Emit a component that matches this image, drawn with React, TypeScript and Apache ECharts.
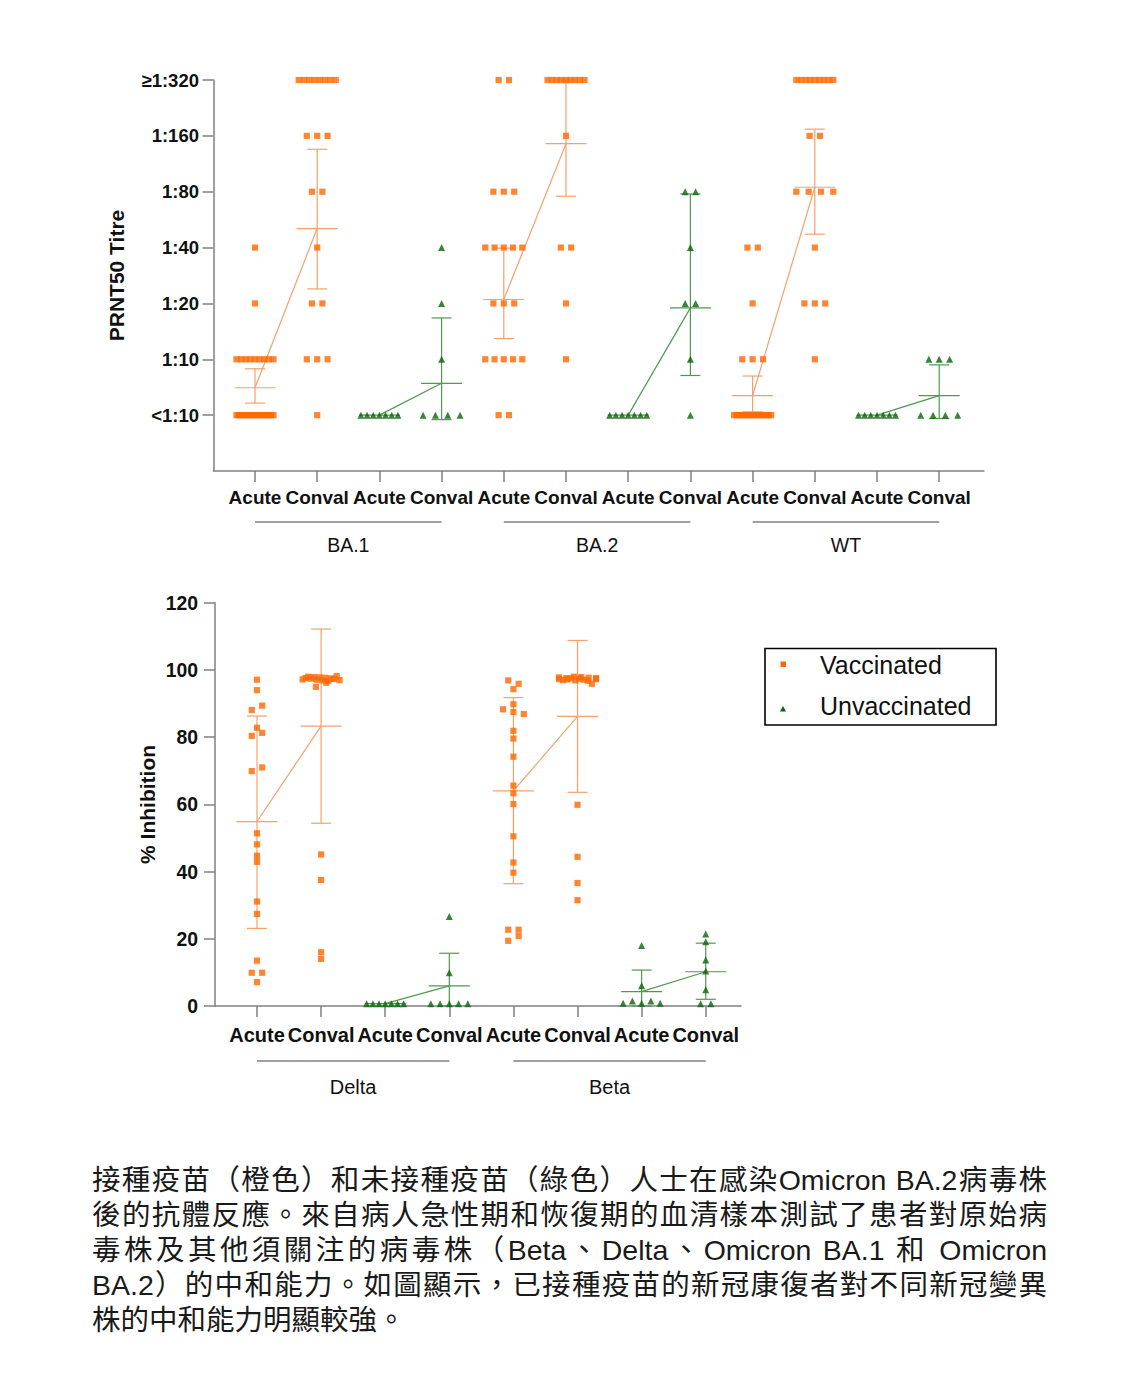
import React, { useEffect, useRef } from 'react';
import * as echarts from 'echarts';

// ---------------- DATA ----------------
const topLevelLabels = ['<1:10', '1:10', '1:20', '1:40', '1:80', '1:160', '≥1:320'];
const topCategories = ['Acute', 'Conval', 'Acute', 'Conval', 'Acute', 'Conval', 'Acute', 'Conval', 'Acute', 'Conval', 'Acute', 'Conval'];
const topGroups = ['BA.1', 'BA.2', 'WT'];

// number of sera at each titre level (<1:10 ... ≥1:320)
const ba1VaccAcute = [17, 9, 1, 1, 0, 0, 0];
const ba1VaccConval = [1, 3, 2, 1, 2, 3, 8];
const ba1UnvaccAcute = [7, 0, 0, 0, 0, 0, 0];
const ba1UnvaccConval = [4, 1, 1, 1, 0, 0, 0];
const ba2VaccAcute = [2, 5, 3, 5, 3, 0, 2];
const ba2VaccConval = [0, 1, 1, 2, 0, 1, 9];
const ba2UnvaccAcute = [7, 0, 0, 0, 0, 0, 0];
const ba2UnvaccConval = [1, 1, 2, 1, 2, 0, 0];
const wtVaccAcute = [16, 3, 1, 2, 0, 0, 0];
const wtVaccConval = [0, 1, 3, 1, 4, 2, 9];
const wtUnvaccAcute = [7, 0, 0, 0, 0, 0, 0];
const wtUnvaccConval = [4, 3, 0, 0, 0, 0, 0];

// mean and error bar (titre level units)
const topMeans = [0.49, 3.34, 0, 0.57, 2.07, 4.86, 0, 1.92, 0.35, 4.08, 0, 0.35];
const topErrLow = [0.215, 2.26, 0, -0.08, 1.37, 3.92, 0, 0.71, 0.06, 3.24, 0, -0.06];
const topErrHigh = [0.83, 4.76, 0, 1.74, 2.99, 6.0, 0, 3.96, 0.7, 5.12, 0, 0.9];

const bottomCategories = ['Acute', 'Conval', 'Acute', 'Conval', 'Acute', 'Conval', 'Acute', 'Conval'];
const bottomGroups = ['Delta', 'Beta'];

// % inhibition values
const deltaVaccAcute = [97.1, 94.0, 88.1, 89.4, 82.8, 80.4, 81.3, 69.9, 71.0, 51.4, 48.1, 44.7, 42.9, 31.1, 27.4, 13.5, 9.9, 9.9, 7.1];
const deltaVaccConval = [97.2, 97.6, 98.0, 97.4, 97.9, 97.1, 97.8, 96.9, 97.7, 96.8, 97.5, 97.3, 98.2, 97.0, 95.0, 96.2, 45.1, 37.5, 16.0, 14.0];
const deltaUnvaccAcute = [0.7, 0.7, 0.7, 0.7, 0.7, 0.7, 0.7];
const deltaUnvaccConval = [26.6, 9.9, 0.7, 0.7, 0.7, 0.7, 0.7];
const betaVaccAcute = [96.9, 95.9, 94.3, 89.8, 88.3, 87.5, 86.9, 81.9, 79.6, 74.2, 65.6, 63.3, 60.1, 50.5, 42.7, 39.7, 22.7, 22.7, 19.4, 20.8];
const betaVaccConval = [97.3, 97.8, 97.0, 97.6, 98.0, 97.2, 97.5, 97.9, 96.9, 97.4, 97.7, 97.1, 96.8, 97.6, 95.9, 97.3, 59.9, 44.4, 36.6, 31.5];
const betaUnvaccAcute = [18.0, 6.0, 0.8, 1.5, 0.8, 1.5, 0.8];
const betaUnvaccConval = [21.4, 19.1, 13.7, 10.4, 4.8, 0.7, 0.7];

const bottomMeans = [54.9, 83.3, 0.7, 6.0, 64.0, 86.2, 4.3, 10.2];
const bottomErrLow = [23.1, 54.4, 0.7, 0, 36.4, 63.6, 0, 2.0];
const bottomErrHigh = [86.3, 112.2, 0.7, 15.7, 91.8, 108.8, 10.7, 18.7];

const captionLines = [
  '接種疫苗（橙色）和未接種疫苗（綠色）人士在感染Omicron BA.2病毒株',
  '後的抗體反應。來自病人急性期和恢復期的血清樣本測試了患者對原始病',
  '毒株及其他須關注的病毒株（Beta、Delta、Omicron BA.1 和 Omicron',
  'BA.2）的中和能力。如圖顯示，已接種疫苗的新冠康復者對不同新冠變異',
  '株的中和能力明顯較強。',
];

// ---------------- STYLE / LAYOUT ----------------
const FONT = '"Liberation Sans", Arial, Helvetica, sans-serif';
const ORANGE = '#FF6600';
const GREEN = '#0A640A';
const ORANGE_LINE = '#F6A06C';
const GREEN_LINE = '#4E9A4E';
const AXIS = '#808080';
const TXT = '#111111';

const TOP = { left: 213.5, top: 80, width: 770.5, height: 391, xMin: -0.667, xMax: 11.72, yMin: -1, yMax: 6 };
const BOT = { left: 215, top: 602.8, width: 526, height: 403.2, xMin: -0.655, xMax: 7.55, yMin: 0, yMax: 120 };
const TOP_PPU = TOP.width / (TOP.xMax - TOP.xMin);
const BOT_PPU = BOT.width / (BOT.xMax - BOT.xMin);

function spread(n: number, ppu: number): number[] {
  const spacing = 10.4 / ppu;
  const span = 37 / ppu;
  const out: number[] = [];
  for (let i = 0; i < n; i++) {
    if (n === 1) out.push(0);
    else if (n <= 3) out.push((i - (n - 1) / 2) * spacing);
    else out.push((i / (n - 1) - 0.5) * span);
  }
  return out;
}

function countsToPoints(cat: number, counts: number[]): number[][] {
  const pts: number[][] = [];
  counts.forEach((n, level) => {
    spread(n, TOP_PPU).forEach((o) => pts.push([cat + o, level]));
  });
  return pts;
}

function valuesToPoints(cat: number, values: number[], threshold: number): number[][] {
  const idx = values.map((_, i) => i).sort((a, b) => values[a] - values[b]);
  const bins: number[][] = [];
  let cur: number[] = [];
  let start: number | null = null;
  for (const i of idx) {
    if (start === null || values[i] - start > threshold) {
      if (cur.length) bins.push(cur);
      cur = [i];
      start = values[i];
    } else cur.push(i);
  }
  if (cur.length) bins.push(cur);
  const pts: number[][] = [];
  bins.forEach((bin) => {
    bin.sort((a, b) => a - b);
    const offs = spread(bin.length, BOT_PPU);
    bin.forEach((i, k) => pts.push([cat + offs[k], values[i]]));
  });
  return pts;
}

const topVacc: [number, number[]][] = [[0, ba1VaccAcute], [1, ba1VaccConval], [4, ba2VaccAcute], [5, ba2VaccConval], [8, wtVaccAcute], [9, wtVaccConval]];
const topUnvacc: [number, number[]][] = [[2, ba1UnvaccAcute], [3, ba1UnvaccConval], [6, ba2UnvaccAcute], [7, ba2UnvaccConval], [10, wtUnvaccAcute], [11, wtUnvaccConval]];
const botVacc: [number, number[]][] = [[0, deltaVaccAcute], [1, deltaVaccConval], [4, betaVaccAcute], [5, betaVaccConval]];
const botUnvacc: [number, number[]][] = [[2, deltaUnvaccAcute], [3, deltaUnvaccConval], [6, betaUnvaccAcute], [7, betaUnvaccConval]];

function isVacc(i: number) {
  return i % 4 < 2;
}

function errorSeries(axisIndex: number, means: number[], lows: number[], highs: number[]) {
  return {
    type: 'custom',
    xAxisIndex: axisIndex,
    yAxisIndex: axisIndex,
    silent: true,
    clip: false,
    z: 2,
    data: means.map((m, i) => [i, m, lows[i], highs[i]]),
    renderItem: (params: any, api: any) => {
      const x = api.value(0);
      const m = api.value(1);
      const lo = api.value(2);
      const hi = api.value(3);
      const color = isVacc(params.dataIndex) ? ORANGE_LINE : GREEN_LINE;
      const pm = api.coord([x, m]);
      const pl = api.coord([x, lo]);
      const ph = api.coord([x, hi]);
      const style = { stroke: color, lineWidth: 1.2 };
      const children: any[] = [
        { type: 'line', shape: { x1: pm[0] - 20.5, y1: pm[1], x2: pm[0] + 20.5, y2: pm[1] }, style },
      ];
      if (hi > lo) {
        children.push({ type: 'line', shape: { x1: pl[0], y1: pl[1], x2: ph[0], y2: ph[1] }, style });
        children.push({ type: 'line', shape: { x1: pl[0] - 10, y1: pl[1], x2: pl[0] + 10, y2: pl[1] }, style });
        children.push({ type: 'line', shape: { x1: ph[0] - 10, y1: ph[1], x2: ph[0] + 10, y2: ph[1] }, style });
      }
      return { type: 'group', children };
    },
  };
}

function meanLineSeries(axisIndex: number, means: number[]) {
  const out: any[] = [];
  for (let p = 0; p < means.length / 2; p++) {
    out.push({
      type: 'line',
      name: 'mean' + axisIndex + '_' + p,
      xAxisIndex: axisIndex,
      yAxisIndex: axisIndex,
      silent: true,
      showSymbol: false,
      symbol: 'none',
      z: 2,
      lineStyle: { color: p % 2 === 0 ? ORANGE_LINE : GREEN_LINE, width: 1.2 },
      data: [[2 * p, means[2 * p]], [2 * p + 1, means[2 * p + 1]]],
    });
  }
  return out;
}

function groupSeries(axisIndex: number, names: string[], yMin: number, lineOff: number, textOff: number, fontSize: number) {
  return {
    type: 'custom',
    xAxisIndex: axisIndex,
    yAxisIndex: axisIndex,
    silent: true,
    clip: false,
    data: names.map((_, i) => [i * 4, i * 4 + 3, i]),
    renderItem: (params: any, api: any) => {
      const a = api.coord([api.value(0), yMin]);
      const b = api.coord([api.value(1), yMin]);
      const name = names[api.value(2)];
      return {
        type: 'group',
        children: [
          { type: 'line', shape: { x1: a[0], y1: a[1] + lineOff, x2: b[0], y2: a[1] + lineOff }, style: { stroke: AXIS, lineWidth: 1.3 } },
          {
            type: 'text',
            x: (a[0] + b[0]) / 2,
            y: a[1] + textOff,
            style: { text: name, fontSize, fontFamily: FONT, fill: TXT, align: 'center', verticalAlign: 'middle' },
          },
        ],
      };
    },
  };
}

function scatter(name: string, axisIndex: number, pts: number[][], vacc: boolean, size: number) {
  return {
    type: 'scatter',
    name,
    xAxisIndex: axisIndex,
    yAxisIndex: axisIndex,
    clip: false,
    z: 3,
    symbol: vacc ? 'rect' : 'triangle',
    symbolSize: size,
    itemStyle: { color: vacc ? ORANGE : GREEN },
    data: pts,
  };
}

const axisLineStyle = { color: AXIS, width: 1.5 };

export default function App() {
  const ref = useRef<HTMLDivElement>(null);

  useEffect(() => {
    if (!ref.current) return;
    const chart = echarts.init(ref.current, undefined, { renderer: 'svg' });

    const topVaccPts = topVacc.flatMap(([c, counts]) => countsToPoints(c, counts));
    const topUnvaccPts = topUnvacc.flatMap(([c, counts]) => countsToPoints(c, counts));
    const botVaccPts = botVacc.flatMap(([c, v]) => valuesToPoints(c, v, 1.6));
    const botUnvaccPts = botUnvacc.flatMap(([c, v]) => valuesToPoints(c, v, 1.6));

    const option: any = {
      animation: false,
      textStyle: { fontFamily: FONT },
      grid: [
        { left: TOP.left, top: TOP.top, width: TOP.width, height: TOP.height },
        { left: BOT.left, top: BOT.top, width: BOT.width, height: BOT.height },
      ],
      xAxis: [
        {
          gridIndex: 0,
          type: 'value',
          min: TOP.xMin,
          max: TOP.xMax,
          splitLine: { show: false },
          axisLine: { show: true, onZero: false, lineStyle: axisLineStyle },
          axisTick: { show: true, length: 11, lineStyle: axisLineStyle, customValues: topCategories.map((_, i) => i) },
          axisLabel: {
            customValues: topCategories.map((_, i) => i),
            formatter: (v: number) => topCategories[Math.round(v)] ?? '',
            margin: 16.5,
            fontSize: 19,
            fontWeight: 'bold',
            color: TXT,
            fontFamily: FONT,
            hideOverlap: false,
          },
        },
        {
          gridIndex: 1,
          type: 'value',
          min: BOT.xMin,
          max: BOT.xMax,
          splitLine: { show: false },
          axisLine: { show: true, onZero: false, lineStyle: axisLineStyle },
          axisTick: { show: true, length: 11, lineStyle: axisLineStyle, customValues: bottomCategories.map((_, i) => i) },
          axisLabel: {
            customValues: bottomCategories.map((_, i) => i),
            formatter: (v: number) => bottomCategories[Math.round(v)] ?? '',
            margin: 19,
            fontSize: 20,
            fontWeight: 'bold',
            color: TXT,
            fontFamily: FONT,
            hideOverlap: false,
          },
        },
      ],
      yAxis: [
        {
          gridIndex: 0,
          type: 'value',
          min: TOP.yMin,
          max: TOP.yMax,
          interval: 1,
          splitLine: { show: false },
          axisLine: { show: true, onZero: false, lineStyle: axisLineStyle },
          axisTick: { show: true, length: 11, lineStyle: axisLineStyle, customValues: topLevelLabels.map((_, i) => i) },
          axisLabel: {
            customValues: topLevelLabels.map((_, i) => i),
            formatter: (v: number) => topLevelLabels[Math.round(v)] ?? '',
            margin: 14.5,
            fontSize: 18.5,
            fontWeight: 'bold',
            color: TXT,
            fontFamily: FONT,
          },
          name: 'PRNT50 Titre',
          nameLocation: 'middle',
          nameGap: 87,
          nameTextStyle: { fontSize: 21, fontWeight: 'bold', color: TXT, fontFamily: FONT },
        },
        {
          gridIndex: 1,
          type: 'value',
          min: BOT.yMin,
          max: BOT.yMax,
          interval: 20,
          splitLine: { show: false },
          axisLine: { show: true, onZero: false, lineStyle: axisLineStyle },
          axisTick: { show: true, length: 11, lineStyle: axisLineStyle },
          axisLabel: { margin: 17, fontSize: 19.4, fontWeight: 'bold', color: TXT, fontFamily: FONT },
          name: '% Inhibition',
          nameLocation: 'middle',
          nameGap: 57.5,
          nameTextStyle: { fontSize: 21, fontWeight: 'bold', color: TXT, fontFamily: FONT },
        },
      ],
      graphic: [
        { type: 'rect', shape: { x: 765, y: 648.5, width: 231, height: 76.5 }, style: { fill: 'none', stroke: '#000', lineWidth: 1.6 } },
        { type: 'rect', shape: { x: 780.5, y: 661.5, width: 5.5, height: 5.5 }, style: { fill: ORANGE } },
        { type: 'polygon', shape: { points: [[783, 706], [786, 711.5], [780, 711.5]] }, style: { fill: GREEN } },
        { type: 'text', x: 820, y: 665, style: { text: 'Vaccinated', fontSize: 25, fontFamily: FONT, fill: TXT, verticalAlign: 'middle' } },
        { type: 'text', x: 820, y: 706, style: { text: 'Unvaccinated', fontSize: 25, fontFamily: FONT, fill: TXT, verticalAlign: 'middle' } },
      ],
      series: [
        errorSeries(0, topMeans, topErrLow, topErrHigh),
        ...meanLineSeries(0, topMeans),
        groupSeries(0, topGroups, TOP.yMin, 51, 74, 19.5),
        scatter('Vaccinated', 0, topVaccPts, true, 6.2),
        scatter('Unvaccinated', 0, topUnvaccPts, false, 7),
        errorSeries(1, bottomMeans, bottomErrLow, bottomErrHigh),
        ...meanLineSeries(1, bottomMeans),
        groupSeries(1, bottomGroups, BOT.yMin, 55, 81, 20),
        scatter('Vaccinated', 1, botVaccPts, true, 6.2),
        scatter('Unvaccinated', 1, botUnvaccPts, false, 7),
      ],
    };
    chart.setOption(option);
    return () => chart.dispose();
  }, []);

  return (
    <div>
      <div ref={ref} style={{ position: 'absolute', left: 0, top: 0, width: 1132, height: 1150 }} />
      <div
        style={{
          position: 'absolute',
          left: 92,
          top: 1163,
          width: 955,
          fontFamily: '"Liberation Sans", "Noto Sans CJK TC", sans-serif',
          fontSize: 28.5,
          lineHeight: '35px',
          color: '#1a1a1a',
        }}
      >
        {captionLines.map((line, i) => {
          const last = i === captionLines.length - 1;
          return (
            <div key={i} style={{ textAlign: last ? 'left' : 'justify', textAlignLast: last ? 'auto' : 'justify' } as any}>
              {line}
            </div>
          );
        })}
      </div>
    </div>
  );
}
